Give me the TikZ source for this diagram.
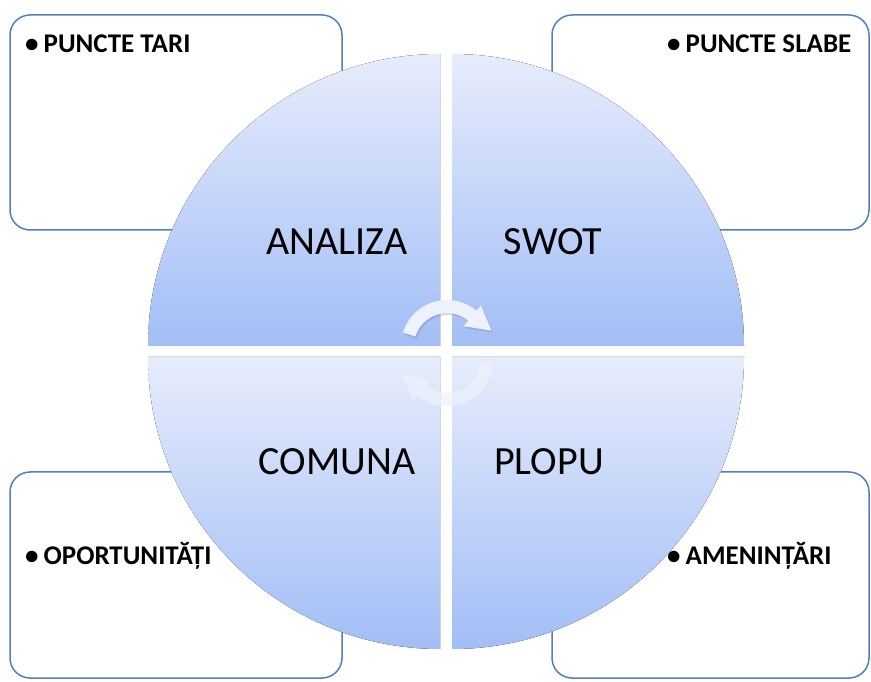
\documentclass[tikz,border=0pt]{standalone}
\usepackage{fontspec}
\setmainfont{Carlito}
\usepackage{tikz}
\usetikzlibrary{positioning}
\definecolor{ramablue}{RGB}{79,129,189}
\definecolor{quadlight}{RGB}{231,236,252}
\definecolor{quaddark}{RGB}{162,190,246}
\definecolor{arrowtint}{RGB}{238,242,253}
\tikzset{
    % rounded frames in the corners
    cadru/.style={
           draw=ramablue,
           line width=1.5pt,
           rounded corners=20pt,
           fill=white,
           },
    % one quarter of the disc
    sfert/.style={
           top color=quadlight,
           bottom color=quaddark,
           },
    umbra/.style={
           fill=gray!75,
           opacity=0.5,
           },
    titlu/.style={
           font=\fontsize{40}{42}\selectfont,
           inner sep=0pt,
           },
    punct/.style={
           font=\bfseries\fontsize{27}{29}\selectfont,
           anchor=base west,
           inner sep=0pt,
           },
    sageata/.style={
           fill=arrowtint,
           },
}

\begin{document}
\begin{tikzpicture}[x=1pt,y=1pt]
  	\fill[white] (0,0) rectangle (871,681);
  	\useasboundingbox (0,0) rectangle (871,681);
  	\clip (0,0) rectangle (871,681);
  	\coordinate (ul) at (440,335);
  	\coordinate (ur) at (452,335);
  	\coordinate (ll) at (440,324);
  	\coordinate (lr) at (452,324);
  	\def\raza{292}
  	% frames
  	\draw[cadru] (10,451) rectangle (342,666);
  	\draw[cadru] (552,451) rectangle (869,666);
  	\draw[cadru] (10,3) rectangle (342,209);
  	\draw[cadru] (552,3) rectangle (869,209);
  	% shadows of the quarters
  	\begin{scope}[yshift=-3pt]
  		\fill[umbra] (ul) -- ++(-\raza,0) arc[start angle=180,end angle=90,radius=\raza] -- cycle;
  		\fill[umbra] (ur) -- ++(0,\raza) arc[start angle=90,end angle=0,radius=\raza] -- cycle;
  		\fill[umbra] (ll) -- ++(0,-\raza) arc[start angle=270,end angle=180,radius=\raza] -- cycle;
  		\fill[umbra] (lr) -- ++(\raza,0) arc[start angle=0,end angle=-90,radius=\raza] -- cycle;
  	\end{scope}
  	% the four quarters
  	\fill[sfert] (ul) -- ++(-\raza,0) arc[start angle=180,end angle=90,radius=\raza] -- cycle;
  	\fill[sfert] (ur) -- ++(0,\raza) arc[start angle=90,end angle=0,radius=\raza] -- cycle;
  	\fill[sfert] (ll) -- ++(0,-\raza) arc[start angle=270,end angle=180,radius=\raza] -- cycle;
  	\fill[sfert] (lr) -- ++(\raza,0) arc[start angle=0,end angle=-90,radius=\raza] -- cycle;
  	% circular arrows
  	\begin{scope}[shift={(447,335)}]
  		\fill[gray,opacity=0.3,xshift=1.5pt,yshift=-2pt] (163:46) arc[start angle=163,end angle=50,radius=46] -- (50:53) -- (19:47) -- (50:26) -- (50:33) arc[start angle=50,end angle=163,radius=33] -- cycle;
  		\fill[sageata] (163:46) arc[start angle=163,end angle=50,radius=46] -- (50:53) -- (19:47) -- (50:26) -- (50:33) arc[start angle=50,end angle=163,radius=33] -- cycle;
  	\end{scope}
  	\begin{scope}[shift={(447,321)}]
  		\fill[sageata,fill opacity=0.7] (-5:46) arc[start angle=-5,end angle=-130,radius=46] -- (-130:53) -- (-161:47) -- (-130:26) -- (-130:33) arc[start angle=-130,end angle=-5,radius=33] -- cycle;
  	\end{scope}
  	% titles
  	\node (analiza) at (337,439) [titlu] {ANALIZA};
  	\node (swot) at (553,439) [titlu] {SWOT};
  	\node (comuna) at (337,219) [titlu] {COMUNA};
  	\node (plopu) at (549,219) [titlu] {PLOPU};
  	% bullets
  	\node (tari) at (25,628) [punct] {•\hspace{5pt}PUNCTE TARI};
  	\node (slabe) at (667,628) [punct] {•\hspace{5pt}PUNCTE SLABE};
  	\node (oport) at (25,117) [punct] {•\hspace{5pt}OPORTUNITĂȚI};
  	\node (amen) at (667,117) [punct] {•\hspace{5pt}AMENINȚĂRI};
\end{tikzpicture}
\end{document}
